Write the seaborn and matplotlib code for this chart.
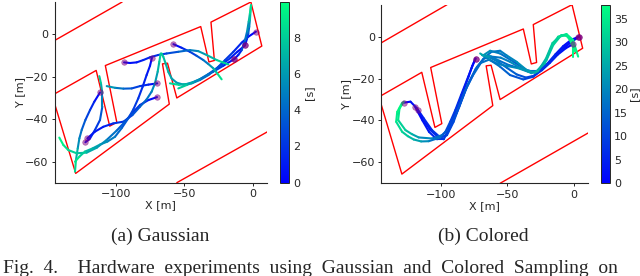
import matplotlib
matplotlib.use("Agg")
import matplotlib.pyplot as plt
import pandas as pd
import seaborn as sns

# walls of the track, same in both panels
wall_top_x = [-145, -95.5]
wall_top_y = [-2.9, 15.3]
wall_low_x = [-55.5, 11]
wall_low_y = [-70, -45.9]
wall_main_x = [-145, -114.5, -104.6, -99.4, -107.8, -38, -32, -28, -30.5, -1.3, 6.7, -55.5, -62.3, -66, -61, -129.5, -145]
wall_main_y = [-28.1, -17, -43.3, -41.5, -14.7, 3.7, -13, -12.3, 5.8, 15.3, -5.5, -30, -13.6, -13.9, -32.9, -65.6, -32.5]

# (a) Gaussian, each trajectory is x, y, time
gauss = [
    ([2.4, -3.2, -8, -14.1, -20.2, -26.3, -32.4, -38.5, -44.6, -50.7, -55.6, -59.3, -61.7, -63.7, -65.4, -66.6],
     [1.3, -1.1, -3.9, -8.2, -12.1, -16, -19.2, -21.5, -23.1, -23.7, -22.8, -20.8, -17.7, -13.7, -10.5, -9],
     [0, 0.6, 1.2, 1.8, 2.5, 3.2, 3.9, 4.5, 5, 5.5, 5.9, 6.3, 6.8, 7.2, 7.6, 8]),
    ([-5.6, -11.2, -16.6, -21.5, -26.3, -32.4, -38.5, -43.4, -48.3, -54.4],
     [-5.2, -8.2, -11.3, -13.7, -16, -18.7, -21.1, -22.6, -23.9, -25.5],
     [0, 0.7, 1.5, 2.2, 3, 4, 5, 6, 7, 9]),
    ([-13.4, -21.5, -28.8, -38.5, -44, -48.3, -54, -60.5],
     [-11.6, -14.8, -17.6, -21.1, -22.6, -23.4, -23.8, -23.1],
     [0, 1.5, 3, 5, 5.8, 6.5, 7.7, 9]),
    ([-13.4, -10.5, -8, -5.6, -4.1, -2.9, -2, -1.2],
     [-11.6, -9.7, -7.4, -2.7, 1.3, 6, 9.9, 13.8],
     [0, 1, 2, 4, 5, 6.5, 8, 9.5]),
    ([-5.6, -4.2, -3.2, -2.5, -2, -1.2],
     [-5.2, -2.2, 0.5, 3.6, 6.8, 13.8],
     [0, 1.5, 3, 4.5, 6, 9]),
    ([-58, -52, -45.9, -41, -36.1, -32.4, -28.8, -25.9, -22.7],
     [-4.6, -6.3, -8.2, -10.1, -12.1, -14, -16, -18.4, -21.2],
     [0, 1, 2, 3, 4, 5.2, 6.5, 8, 9.5]),
    ([-94.1, -89.8, -84.9, -80, -75.1, -69, -62.9, -54.4, -45.9, -39.8, -33.7, -26.3, -17.8],
     [-13.2, -13.5, -13.2, -12.1, -10.8, -9.7, -9, -8.2, -7.4, -7.9, -9.7, -12.1, -14.2],
     [0, 0.4, 0.8, 1.2, 1.5, 2, 2.5, 3.5, 4.5, 5.5, 6.5, 7.7, 9]),
    ([-73.7, -75.1, -77.6, -80.5, -83.7, -87.3, -91, -95.9, -100.7, -106.3, -111.7, -117.1, -122.7, -126.8, -130],
     [-11, -14.8, -19.2, -24.7, -30.2, -35.4, -39.6, -44.3, -48.3, -50.6, -52, -53.8, -55.3, -57.7, -60.1],
     [0, 0.5, 1, 1.5, 2, 2.5, 3, 3.7, 4.5, 5.2, 6, 6.7, 7.5, 8.5, 9.5]),
    ([-69.8, -76.3, -82.4, -88.5, -94.6, -100.7, -106.8],
     [-23.1, -23.7, -24.4, -25.5, -25.6, -25.2, -24.4],
     [0, 1, 2, 3, 4, 5.2, 6.5]),
    ([-70, -76.3, -82.4, -88, -93.4, -99.5, -106.8, -114.1, -121.5, -128.8, -134.9, -138.5, -141.5],
     [-29.6, -31, -33.3, -37, -41.2, -45.4, -49.8, -53.5, -55.8, -56.1, -54.6, -52.2, -48.7],
     [0, 0.7, 1.5, 2.2, 3, 4, 5, 6, 7, 7.8, 8.5, 9.2, 9.8]),
    ([-111.7, -115.9, -119, -122.4, -125.1, -126.8, -128, -129.3, -130],
     [-27.4, -31.8, -35.7, -40.4, -45.1, -49.1, -53.8, -59.3, -64.8],
     [0, 1, 2, 3, 4, 5, 6, 7.7, 9.5]),
    ([-121, -115.4, -109.3, -102, -94.6, -88, -82.4, -77.6, -73.9, -71.5, -69.5, -68.3, -67.3],
     [-49.1, -45.9, -43.6, -42, -41.2, -38.1, -34.1, -30.7, -27, -23.1, -17.6, -12.9, -9],
     [0, 0.5, 1, 1.6, 2.2, 2.9, 3.5, 4.2, 5, 5.7, 6.6, 7.5, 8.5]),
    ([-122.4, -119, -115.4, -111.7, -110, -110, -111, -112.2],
     [-50.9, -49.1, -45.1, -40.4, -34.1, -27.8, -23.1, -19.7],
     [0, 0.7, 1.7, 2.8, 4.2, 6, 7.3, 8.5]),
]

# (b) Colored
colored = [
    ([-128, -123, -118, -113, -106.8, -100.5, -95.5, -90.5, -85.5, -80, -73, -67, -62, -55.5, -50.8, -43, -35.5, -29.3, -21.8, -16.8, -11.8, -5.5, -0.5, 3.3],
     [-31.5, -31, -34.3, -39, -44.6, -48.1, -47, -40.6, -31.9, -23, -14.5, -9.9, -7.2, -6.7, -8.8, -12, -15.9, -17.2, -12.7, -4.8, 0, 1.3, -1.6, -9.5],
     [0, 1, 3, 4.5, 6.5, 8.5, 9.5, 11, 12, 13, 14.5, 16, 17, 18, 19, 20.5, 22.5, 25, 27.5, 30, 32, 34, 35.5, 37.5]),
    ([-117.5, -113, -108, -101.8, -96.8, -91.8, -86.3, -80.5, -74, -68, -62, -55, -48, -40, -32, -28, -20.5, -15.5, -9.3, -4.3, -0.5, -0.5],
     [-35.2, -39.9, -44.6, -48.1, -47.5, -41.4, -33.5, -23.9, -15.5, -10.5, -9.5, -10, -12, -15, -17.4, -16.7, -11.1, -4, 0.8, 0.3, -4.8, -9.5],
     [0, 2, 4, 6.5, 8, 10, 11.5, 13, 14.5, 16, 17, 18, 19.5, 21, 23, 24.5, 27, 29.5, 32, 34, 36, 37.5]),
    ([-119.5, -114, -109, -103, -98, -93, -88, -82, -76, -70, -64, -57, -50, -42, -34, -27, -21, -16, -11, -6, -2, 1],
     [-33.5, -40, -45.5, -49, -49, -43, -36, -26, -18.5, -12.5, -11, -13, -14, -15, -16.8, -16.5, -10.5, -3, 0, 0.8, -2, -7],
     [0, 2, 4, 6.5, 8, 10, 11.5, 13, 14.5, 16, 17, 18, 19.5, 21, 23, 24.5, 27, 29.5, 32, 34, 36, 37.5]),
    ([-74, -76.5, -79.3, -83, -86.8, -91, -95.5, -100.5, -109.3, -115, -120.5, -125, -129.3, -133.8, -133, -129.3],
     [-10.4, -14, -19.1, -25.5, -31.9, -38.5, -44.7, -48.1, -49.9, -50, -49.1, -47.5, -45.4, -40.6, -35.9, -31.5],
     [0, 1.5, 3, 5, 7, 9, 11, 14, 19, 23, 26, 29, 31, 34, 36, 38]),
    ([-74, -77, -80.5, -85, -89.3, -93, -96.8, -99.3, -106.8, -116.8, -122, -126.8, -132.3, -131.3, -128],
     [-10.4, -15, -20.7, -28, -35.1, -40.5, -45.5, -47, -48.6, -48.1, -46.5, -44.6, -39.8, -34.3, -31],
     [0, 2, 3.5, 5.5, 7.5, 9.5, 12, 14, 18, 23, 26, 29, 33, 35.5, 37.5]),
    ([3.3, -1.8, -8, -15.5, -23, -30.5, -38, -48, -55.5, -63, -68, -70.5],
     [0, -2.4, -5.6, -10.3, -15.1, -19.1, -20.4, -18.3, -14.3, -11.1, -9, -8],
     [0, 1, 2.5, 4.5, 6.5, 9, 11, 13.5, 15.5, 18, 22, 28]),
    ([-0.5, -6, -12, -18, -24, -30, -36, -43, -50, -57, -64, -69],
     [-3.5, -5.5, -8.5, -12.5, -16, -18.6, -19.5, -18, -15, -12, -9.7, -8.8],
     [0, 1.5, 3, 5, 7, 9, 11, 13, 15, 17, 20, 26]),
    ([3.8, -2, -8, -14, -20, -27, -34, -41, -49, -56, -63, -69],
     [0, -1.5, -4.5, -8.5, -13, -16.5, -16.5, -15, -13.5, -11.5, -9.3, -8.8],
     [0, 1, 2.5, 4.5, 6.5, 9, 11, 13, 15, 17, 19, 24]),
    ([3.8, -3, -9, -15, -21, -28, -35.5, -45.5, -55.5, -63, -68],
     [0, -3, -6.2, -9.8, -13.5, -17.2, -15.9, -11.9, -8, -6.7, -8.8],
     [0, 1.5, 3, 5, 7, 9, 12, 15, 18, 20, 23]),
]

captions = ["(a) Gaussian", "(b) Colored"]
fig_caption = "Fig.  4.    Hardware  experiments  using  Gaussian  and  Colored  Sampling  on"
gauss_ticks = [0, 2, 4, 6, 8]
colored_ticks = [0, 5, 10, 15, 20, 25, 30, 35]

W, H = 640, 276


def segments(trajs):
    # one two point unit per segment, so hue can change along a trajectory
    rows = []
    for i, (xs, ys, ts) in enumerate(trajs):
        for j in range(len(xs) - 1):
            t = (ts[j] + ts[j + 1]) / 2
            rows.append((f"{i}-{j}", xs[j], ys[j], t))
            rows.append((f"{i}-{j}", xs[j + 1], ys[j + 1], t))
    return pd.DataFrame(rows, columns=["seg", "x", "y", "t"])


def draw_panel(fig, box, cbox, trajs, tmax, ticks, label_pad):
    ax = fig.add_axes([box[0] / W, 1 - box[3] / H, (box[2] - box[0]) / W, (box[3] - box[1]) / H])
    for wx, wy in [(wall_top_x, wall_top_y), (wall_low_x, wall_low_y), (wall_main_x, wall_main_y)]:
        sns.lineplot(x=wx, y=wy, sort=False, estimator=None, color="red", lw=1.0, ax=ax)
    sns.lineplot(data=segments(trajs), x="x", y="y", hue="t", units="seg", estimator=None, sort=False,
                 palette="winter", hue_norm=(0, tmax), lw=1.5, legend=False, ax=ax,
                 solid_capstyle="round")
    sx = [tr[0][0] for tr in trajs]
    sy = [tr[1][0] for tr in trajs]
    sns.scatterplot(x=sx, y=sy, s=16, color="purple", alpha=0.5, edgecolor="purple", linewidth=0.5, ax=ax, zorder=5)
    ax.set_xlim(-145, 10.5)
    ax.set_ylim(-70, 15.3)
    ax.set_xticks([-100, -50, 0])
    ax.set_yticks([0, -20, -40, -60])
    ax.set_xlabel("X [m]", fontsize=8, labelpad=1)
    ax.set_ylabel("Y [m]", fontsize=8, labelpad=0)
    ax.tick_params(labelsize=8, length=2.5, width=0.7, pad=2)
    sns.despine(ax=ax)

    cax = fig.add_axes([cbox[0] / W, 1 - cbox[3] / H, (cbox[2] - cbox[0]) / W, (cbox[3] - cbox[1]) / H])
    sm = plt.cm.ScalarMappable(norm=plt.Normalize(0, tmax), cmap="winter")
    cb = fig.colorbar(sm, cax=cax, ticks=ticks)
    cb.set_label("[s]", fontsize=8, labelpad=label_pad)
    cb.ax.tick_params(labelsize=8, length=0, pad=3)
    cb.outline.set_linewidth(0.7)


sns.set_style("ticks")
plt.rcParams["axes.linewidth"] = 0.8
fig = plt.figure(figsize=(W / 100, H / 100), dpi=100)

draw_panel(fig, (54.5, 2, 267, 182.7), (280, 2, 289, 182.7), gauss, 9.98, gauss_ticks, 3)
draw_panel(fig, (381.3, 4.7, 587.7, 183.3), (601, 4.7, 609.7, 183.3), colored, 38.05, colored_ticks, 0.5)

serif = "Liberation Serif"
fig.text(160.5 / W, 1 - 236 / H, captions[0], family=serif, fontsize=14, ha="center", va="center")
fig.text(483 / W, 1 - 236 / H, captions[1], family=serif, fontsize=14, ha="center", va="center")
fig.text(3 / W, 1 - 273 / H, fig_caption, family=serif, fontsize=14, ha="left", va="baseline")

fig.savefig("out.png", dpi=100)
plt.close(fig)
